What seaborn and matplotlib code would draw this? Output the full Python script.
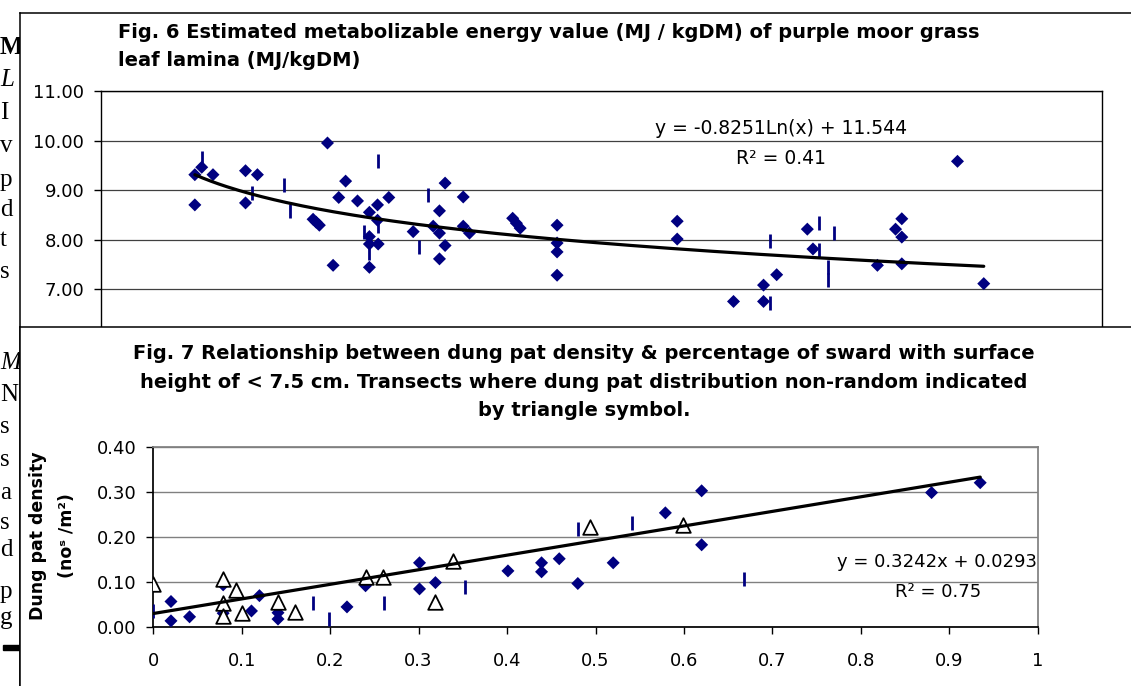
import numpy as np
import matplotlib
matplotlib.use("Agg")
import matplotlib.pyplot as plt
from matplotlib.patches import Rectangle
from matplotlib.ticker import FuncFormatter
import seaborn as sns

# ---- Fig. 6 : metabolizable energy of purple moor grass leaf lamina ----
fig6_x = [15.0, 16.1, 17.9, 15.0, 23.1, 25.0, 23.1, 36.2, 39.1, 38.0, 41.0,
          33.9, 34.4, 34.9, 37.1, 42.9, 44.2, 46.0, 44.2, 42.9, 42.9, 44.3,
          42.9, 55.0, 54.1, 57.9, 49.9, 53.1, 54.1, 55.0, 54.1, 57.9, 58.9,
          65.8, 66.4, 67.0, 72.9, 72.9, 72.9, 72.9, 92.1, 92.1, 101.1, 105.9,
          105.9, 108.0, 112.9, 113.8, 124.1, 128.0, 127.0, 128.0, 128.0,
          136.9, 141.1]
fig6_y = [9.31, 9.46, 9.31, 8.70, 9.39, 9.31, 8.74, 9.95, 9.18, 8.85, 8.78,
          8.41, 8.35, 8.29, 7.48, 8.55, 8.70, 8.85, 8.39, 8.06, 7.91, 7.91,
          7.44, 9.14, 8.58, 8.86, 8.16, 8.27, 8.13, 7.88, 7.61, 8.27, 8.13,
          8.43, 8.33, 8.23, 8.29, 7.93, 7.75, 7.28, 8.37, 8.01, 6.75, 7.08,
          6.75, 7.29, 8.21, 7.81, 7.48, 8.42, 8.21, 8.05, 7.51, 9.58, 7.11]
# short vertical dash markers
fig6_dash_x = [16.1, 24.1, 29.2, 30.2, 42.0, 42.9, 44.2, 44.2, 50.9, 52.2,
               106.9, 106.9, 114.8, 114.8, 117.1, 116.2, 116.2]
fig6_dash_y = [9.64, 8.95, 9.10, 8.58, 8.15, 7.73, 9.59, 8.28, 7.85, 8.90,
               7.98, 6.72, 8.34, 7.79, 8.13, 7.45, 7.19]
fig6_slope = -0.8251
fig6_intercept = 11.544
fig6_r2 = 0.41
fig6_yticks = [6, 7, 8, 9, 10, 11]

# ---- Fig. 7 : dung pat density vs % sward < 7.5 cm ----
fig7_x = [0.020, 0.020, 0.041, 0.079, 0.079, 0.111, 0.120, 0.141, 0.141,
          0.219, 0.240, 0.301, 0.301, 0.319, 0.401, 0.439, 0.439, 0.459,
          0.480, 0.520, 0.579, 0.620, 0.620, 0.880, 0.935]
fig7_y = [0.056, 0.013, 0.022, 0.093, 0.030, 0.035, 0.069, 0.031, 0.017,
          0.044, 0.091, 0.142, 0.084, 0.098, 0.124, 0.142, 0.122, 0.151,
          0.096, 0.142, 0.253, 0.302, 0.182, 0.298, 0.320]
# transects with non-random dung pat distribution (triangles)
fig7_tri_x = [0.000, 0.079, 0.093, 0.079, 0.079, 0.100, 0.141, 0.160, 0.240,
              0.260, 0.319, 0.339, 0.494, 0.599]
fig7_tri_y = [0.095, 0.105, 0.082, 0.052, 0.024, 0.030, 0.054, 0.033, 0.110,
              0.110, 0.056, 0.146, 0.221, 0.226]
fig7_dash_x = [0.000, 0.181, 0.199, 0.261, 0.352, 0.480, 0.541, 0.668]
fig7_dash_y = [0.036, 0.053, 0.018, 0.053, 0.089, 0.217, 0.230, 0.106]
fig7_slope = 0.3242
fig7_intercept = 0.0293
fig7_r2 = 0.75
fig7_xticks = [0, 0.1, 0.2, 0.3, 0.4, 0.5, 0.6, 0.7, 0.8, 0.9, 1.0]
fig7_yticks = [0, 0.1, 0.2, 0.3, 0.4]

# scraps of the page text peeking out on the left edge
page_letters = ["M", "L", "I", "v", "p", "d", "t", "s",
                "M", "N", "s", "s", "a", "s", "d", "p", "g"]
page_letter_y = [48, 80, 113, 146, 180, 210, 240, 272,
                 363, 395, 427, 460, 493, 523, 550, 592, 618]
page_letter_style = ["bold", "italic"] + ["normal"] * 6 + ["italic"] + ["normal"] * 8

NAVY = "#000080"
W, H = 1131, 686

sns.set_theme(style="white")
plt.rcParams["font.family"] = ["DejaVu Sans"]
plt.rcParams.update({"text.color": "black", "axes.labelcolor": "black",
                     "xtick.color": "black", "ytick.color": "black"})

fig = plt.figure(figsize=(W / 100, H / 100), dpi=100)


def box(left, top, right, bottom):
    return [left / W, 1 - bottom / H, (right - left) / W, (bottom - top) / H]


# page underneath (pixel coordinates, y down)
ax_page = fig.add_axes([0, 0, 1, 1], zorder=0)
ax_page.set_xlim(0, W)
ax_page.set_ylim(H, 0)
ax_page.axis("off")
px = ax_page.transData
for ch, yy, st in zip(page_letters, page_letter_y, page_letter_style):
    ax_page.text(0, yy, ch, va="center", ha="left", fontsize=18,
                 family=["Liberation Serif", "DejaVu Serif"],
                 fontweight="bold" if st == "bold" else "normal",
                 fontstyle="italic" if st == "italic" else "normal")
ax_page.add_patch(Rectangle((3, 645), 17, 5, color="black"))


def chart_frame(top, z):
    fr = fig.add_axes(box(20, top, W + 10, H + 10), zorder=z)
    fr.set_facecolor("white")
    fr.set_xticks([])
    fr.set_yticks([])
    for side in ["right", "bottom"]:
        fr.spines[side].set_visible(False)
    for side in ["top", "left"]:
        fr.spines[side].set_color("black")
        fr.spines[side].set_linewidth(1.1)
    return fr


# ---------------- Fig. 6 ----------------
frame6 = chart_frame(13, 1)
frame6.text(118, 23,
            "Fig. 6 Estimated metabolizable energy value (MJ / kgDM) of purple moor grass\n"
            "leaf lamina (MJ/kgDM)",
            transform=px, ha="left", va="top", fontsize=14, fontweight="bold",
            linespacing=1.6)

ax6 = fig.add_axes(box(101, 91, 1102, 338.6), zorder=2)
ax6.set_facecolor("white")
sns.scatterplot(x=fig6_x, y=fig6_y, marker="D", s=44, color=NAVY,
                edgecolor="none", ax=ax6, zorder=3)
sns.scatterplot(x=fig6_dash_x, y=fig6_dash_y, marker="|", s=90, color=NAVY,
                linewidth=2, ax=ax6, zorder=3)
trend6_x = np.linspace(min(fig6_x), max(fig6_x), 200)
sns.lineplot(x=trend6_x, y=fig6_intercept + fig6_slope * np.log(trend6_x),
             color="black", linewidth=2.3, ax=ax6, zorder=4)
ax6.set_xlim(0, 160)
ax6.set_ylim(6, 11)
ax6.set_xticks([])
ax6.set_yticks(fig6_yticks)
ax6.yaxis.set_major_formatter(FuncFormatter(lambda v, p: f"{v:.2f}"))
ax6.tick_params(axis="y", direction="out", length=5, width=1, color="black",
                labelsize=13, pad=7, left=True)
ax6.grid(axis="y", color="#404040", linewidth=0.9)
ax6.set_axisbelow(True)
for side in ["top", "right", "left"]:
    ax6.spines[side].set_color("black")
    ax6.spines[side].set_linewidth(1)
ax6.set_xlabel("")
ax6.set_ylabel("")
ax6.text(781, 128, f"y = {fig6_slope}Ln(x) + {fig6_intercept}", transform=px,
         ha="center", va="center", fontsize=13.5)
ax6.text(781, 158, f"R² = {fig6_r2:.2f}", transform=px,
         ha="center", va="center", fontsize=13.5)

# ---------------- Fig. 7 ----------------
frame7 = chart_frame(327, 3)
frame7.text(584, 344,
            "Fig. 7 Relationship between dung pat density & percentage of sward with surface\n"
            "height of < 7.5 cm. Transects where dung pat distribution non-random indicated\n"
            "by triangle symbol.",
            transform=px, ha="center", va="top", fontsize=14, fontweight="bold",
            linespacing=1.65, multialignment="center")
frame7.text(38, 536, "Dung pat density", transform=px, rotation=90,
            ha="center", va="center", fontsize=12.5, fontweight="bold")
frame7.text(67, 536, "(noˢ /m²)", transform=px, rotation=90,
            ha="center", va="center", fontsize=12.5, fontweight="bold")

ax7 = fig.add_axes(box(153.3, 446.7, 1037.7, 626.7), zorder=4)
ax7.set_facecolor("white")
sns.scatterplot(x=fig7_x, y=fig7_y, marker="D", s=44, color=NAVY,
                edgecolor="none", ax=ax7, zorder=3)
sns.scatterplot(x=fig7_dash_x, y=fig7_dash_y, marker="|", s=90, color=NAVY,
                linewidth=2, ax=ax7, zorder=3)
sns.scatterplot(x=fig7_tri_x, y=fig7_tri_y, marker="^", s=110,
                facecolor="white", edgecolor="black", linewidth=1.3,
                ax=ax7, zorder=4)
all7_x = fig7_x + fig7_tri_x + fig7_dash_x
trend7_x = np.array([min(all7_x), max(all7_x)])
sns.lineplot(x=trend7_x, y=fig7_intercept + fig7_slope * trend7_x,
             color="black", linewidth=2.3, ax=ax7, zorder=5)
ax7.set_xlim(0, 1)
ax7.set_ylim(0, 0.4)
ax7.set_xticks(fig7_xticks)
ax7.set_yticks(fig7_yticks)
ax7.xaxis.set_major_formatter(FuncFormatter(lambda v, p: f"{v:g}"))
ax7.yaxis.set_major_formatter(FuncFormatter(lambda v, p: f"{v:.2f}"))
ax7.tick_params(axis="y", direction="out", length=5, width=1, color="black",
                labelsize=13, pad=7, left=True)
ax7.tick_params(axis="x", direction="out", length=5, width=1, color="black",
                labelsize=13, pad=13, bottom=True)
ax7.grid(axis="y", color="#808080", linewidth=1)
ax7.grid(axis="x", visible=False)
ax7.set_axisbelow(True)
for side in ["top", "right"]:
    ax7.spines[side].set_color("#808080")
for side in ["left", "bottom"]:
    ax7.spines[side].set_color("black")
ax7.set_xlabel("")
ax7.set_ylabel("")
ax7.text(1037, 562, f"y = {fig7_slope}x + {fig7_intercept}", transform=px,
         ha="right", va="center", fontsize=13)
ax7.text(938, 592, f"R² = {fig7_r2:.2f}", transform=px,
         ha="center", va="center", fontsize=13)

fig.savefig("out.png", dpi=100)
